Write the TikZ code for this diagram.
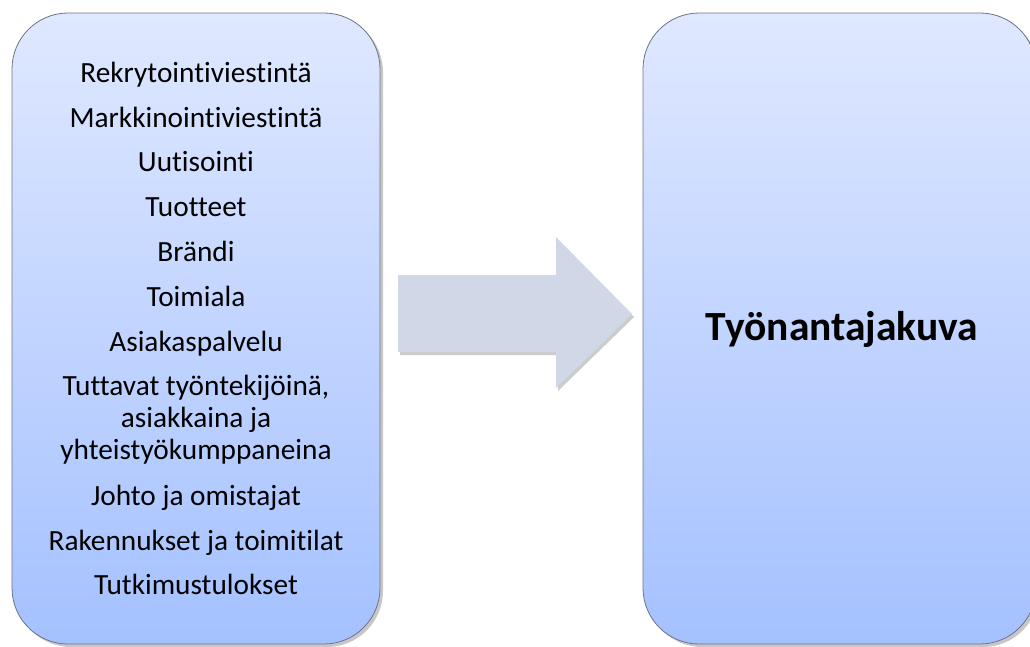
\documentclass[tikz,border=0pt]{standalone}
\usepackage{fontspec}
\setmainfont{Carlito}[Ligatures={NoCommon}]
\definecolor{boxtop}{RGB}{223,232,255}
\definecolor{boxbot}{RGB}{164,193,255}
\definecolor{boxline}{RGB}{110,116,130}
\definecolor{arrowfill}{RGB}{208,216,232}
\begin{document}
\begin{tikzpicture}[x=1pt,y=-1pt,
  roundbox/.style={draw=boxline, line width=0.8pt, rounded corners=56pt, top color=boxtop, bottom color=boxbot},
  boxshadow/.style={fill=black, opacity=0.22, rounded corners=56pt},
  item/.style={anchor=base, inner sep=0pt, font=\fontsize{29.3}{32}\selectfont},
  titletext/.style={anchor=base, inner sep=0pt, font=\fontsize{41.5}{48}\selectfont\bfseries}]
\useasboundingbox (0,0) rectangle (1030,646);
\clip (0,0) rectangle (1030,646);
% shadows
\fill[boxshadow] (15,16) rectangle (383,647);
\fill[boxshadow] (646,16) rectangle (1039,647);
\fill[black, opacity=0.2] (400,278) -- (558,278) -- (558,240) -- (634,317) -- (558,391) -- (558,355) -- (400,355) -- cycle;
% boxes
\draw[roundbox] (12,13) rectangle (380,644);
\draw[roundbox] (643,13) rectangle (1036,644);
% arrow
\fill[arrowfill] (398,275) -- (556,275) -- (556,237) -- (632,314) -- (556,388) -- (556,352) -- (398,352) -- cycle;
% left texts
\node[item] (t1) at (196,82.3) {Rekrytointiviestintä};
\node[item] (t2) at (196,127.3) {Markkinointiviestintä};
\node[item] (t3) at (196,171.7) {Uutisointi};
\node[item] (t4) at (196,216.7) {Tuotteet};
\node[item] (t5) at (196,261.7) {Brändi};
\node[item] (t6) at (196,306) {Toimiala};
\node[item] (t7) at (196,351) {Asiakaspalvelu};
\node[item] (t8a) at (196,395) {Tuttavat työntekijöinä,};
\node[item] (t8b) at (196,427.3) {asiakkaina ja};
\node[item] (t8c) at (196,459) {yhteistyökumppaneina};
\node[item] (t9) at (196,505.7) {Johto ja omistajat};
\node[item] (t10) at (196,550) {Rakennukset ja toimitilat};
\node[item] (t11) at (196,594.3) {Tutkimustulokset};
% title
\node[titletext] (title) at (842,340.7) {Työnantajakuva};
\end{tikzpicture}
\end{document}
